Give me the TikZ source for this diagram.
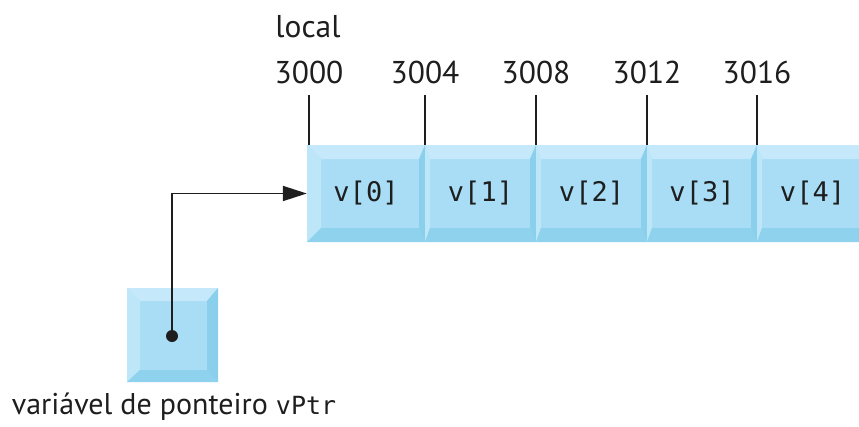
\documentclass[tikz,border=0pt]{standalone}
\usepackage{fontspec}
\setmainfont{PT Sans}
\newfontfamily\codefont{DejaVu Sans Mono}
\usetikzlibrary{arrows.meta}

\definecolor{face}{RGB}{168,221,245}
\definecolor{bevtop}{RGB}{197,233,250}
\definecolor{bevleft}{RGB}{189,230,249}
\definecolor{bevright}{RGB}{138,207,236}
\definecolor{bevbot}{RGB}{142,210,238}
\definecolor{ink}{RGB}{30,30,30}

% bevelled block: x1 y1 x2 y2, then bevel widths left top right bottom
\newcommand\bevelblock[8]{%
  \fill[face] (#1,#2) rectangle (#3,#4);
  \fill[bevtop] (#1,#2) -- (#3,#2) -- (#3-#7,#2+#6) -- (#1+#5,#2+#6) -- cycle;
  \fill[bevleft] (#1,#2) -- (#1+#5,#2+#6) -- (#1+#5,#4-#8) -- (#1,#4) -- cycle;
  \fill[bevright] (#3,#2) -- (#3-#7,#2+#6) -- (#3-#7,#4-#8) -- (#3,#4) -- cycle;
  \fill[bevbot] (#1,#4) -- (#1+#5,#4-#8) -- (#3-#7,#4-#8) -- (#3,#4) -- cycle;
}

\tikzset{
  label text/.style={font=\fontsize{31.5}{31.5}\selectfont, text=ink, inner sep=0pt},
  cell text/.style={font=\codefont\fontsize{27}{27}\selectfont, text=ink, inner sep=0pt},
  tick/.style={draw=ink, line width=1.8pt},
  link/.style={draw=ink, line width=1.8pt, -{Triangle[length=24pt,width=15pt]}},
}

\begin{document}
\begin{tikzpicture}[x=1pt,y=-1pt]
  \useasboundingbox (0,0) rectangle (859,426);

  % the array of five elements, cut off at the right edge
  \begin{scope}
    \clip (0,0) rectangle (859,426);
    \bevelblock{307}{145}{425}{242}{14}{14}{6}{14}
    \bevelblock{425}{145}{536}{242}{5}{14}{6}{14}
    \bevelblock{536}{145}{647}{242}{5}{14}{6}{14}
    \bevelblock{647}{145}{757}{242}{5}{14}{6}{14}
    \bevelblock{757}{145}{868}{242}{5}{14}{6}{14}
  \end{scope}

  \node[cell text, minimum width=118pt, minimum height=97pt] (v0) at (366,193.5) {v[0]};
  \node[cell text, minimum width=111pt, minimum height=97pt] (v1) at (480.5,193.5) {v[1]};
  \node[cell text, minimum width=111pt, minimum height=97pt] (v2) at (591.5,193.5) {v[2]};
  \node[cell text, minimum width=110pt, minimum height=97pt] (v3) at (702,193.5) {v[3]};
  \node[cell text, minimum width=111pt, minimum height=97pt] (v4) at (812.5,193.5) {v[4]};

  % addresses with their ticks
  \node[label text] (local) at (308,27) {local};
  \node[label text] (a0) at (309,72) {3000};
  \node[label text] (a1) at (425,72) {3004};
  \node[label text] (a2) at (536,72) {3008};
  \node[label text] (a3) at (647,72) {3012};
  \node[label text] (a4) at (757,72) {3016};
  \foreach \x in {309,425,536,647,757}
    \draw[tick] (\x,95) -- (\x,145);

  % the pointer variable
  \bevelblock{127}{288}{218}{382}{13}{13}{11}{12}
  \node[inner sep=0pt, minimum width=91pt, minimum height=94pt] (ptr) at (172.5,335) {};
  \coordinate (dot) at (172,336);
  \fill[ink] (dot) circle (6pt);
  \draw[link] (dot) |- (v0.west);

  \node[label text, font=\fontsize{30}{30}\selectfont] (ptrlabel) at (174,407)
    {variável de ponteiro {\codefont\fontsize{25}{25}\selectfont vPtr}};
\end{tikzpicture}
\end{document}
